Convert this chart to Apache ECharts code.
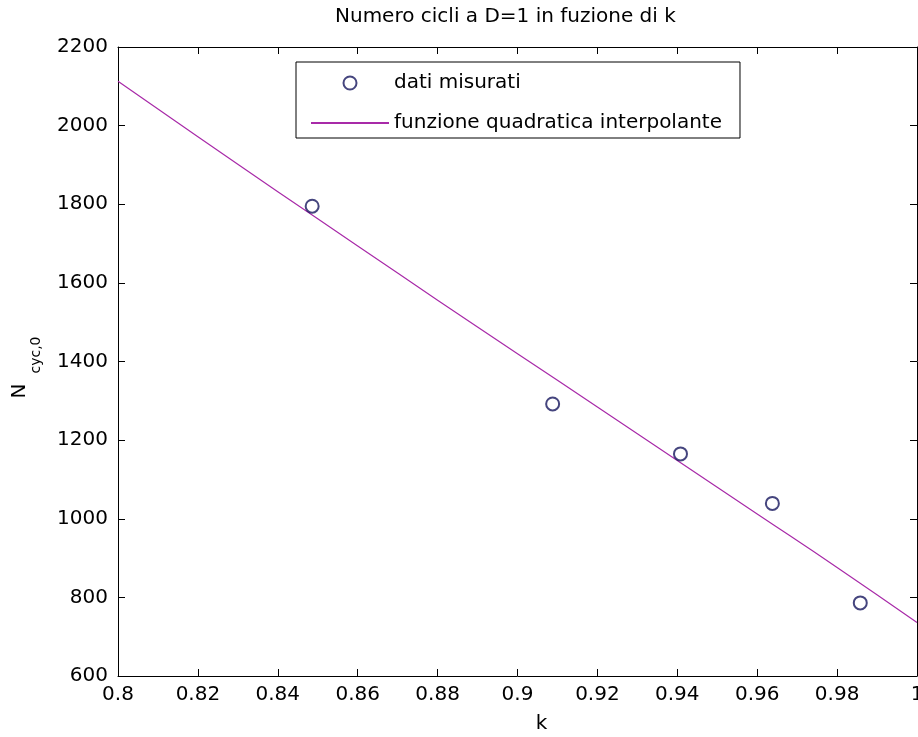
<!DOCTYPE html>
<html>
<head>
<meta charset="utf-8">
<script src="https://cdn.jsdelivr.net/npm/echarts@6/dist/echarts.min.js"></script>
<style>
  html, body { margin: 0; padding: 0; background: #ffffff; overflow: hidden; }
  #chart { width: 918px; height: 737px; }
</style>
</head>
<body>
<div id="chart"></div>
<script>
// Measured cycle counts at D = 1
const measuredK = [0.8486, 0.9088, 0.9408, 0.9638, 0.9858];
const measuredN = [1795, 1292, 1165, 1039, 786];

// Quadratic fit curve, sampled along k
const fitK = [0.80, 0.82, 0.84, 0.86, 0.88, 0.90, 0.92, 0.94, 0.96, 0.98, 1.00];
const fitN = [2113, 1972, 1832, 1694, 1556, 1420, 1284, 1148, 1012, 876, 736];

const xTicks = { min: 0.8, max: 1.0, interval: 0.02 };
const yTicks = { min: 600, max: 2200, interval: 200 };

const titleText = 'Numero cicli a D=1 in fuzione di k';
const legendNames = ['dati misurati', 'funzione quadratica interpolante'];

const FONT = 'DejaVu Sans';
const chart = echarts.init(document.getElementById('chart'), null, { renderer: 'canvas' });

const tickStyle = { show: true, inside: true, length: 7, lineStyle: { color: '#000', width: 1 } };
const lineStyle = { show: true, lineStyle: { color: '#000', width: 1 } };

function xLabel(v) {
  return String(Math.round(v * 100) / 100);
}
function yLabel(v) {
  return String(Math.round(v));
}

chart.setOption({
  backgroundColor: '#ffffff',
  animation: false,
  title: {
    text: titleText,
    left: 335,
    top: 7,
    padding: 0,
    textStyle: { fontFamily: FONT, fontSize: 20, fontWeight: 'normal', color: '#000' }
  },
  grid: { left: 118, right: 1, top: 47, bottom: 61, containLabel: false, outerBoundsMode: 'none' },
  legend: {
    orient: 'vertical',
    left: 296,
    top: 62,
    padding: [9, 18, 3, 14],
    itemGap: 16,
    itemWidth: 78,
    itemHeight: 13,
    borderColor: '#000',
    borderWidth: 1,
    backgroundColor: '#fff',
    textStyle: { fontFamily: FONT, fontSize: 20, color: '#000', lineHeight: 24 },
    data: [
      { name: legendNames[0] },
      { name: legendNames[1], itemStyle: { opacity: 0 } }
    ]
  },
  xAxis: [
    {
      type: 'value', position: 'bottom',
      min: xTicks.min, max: xTicks.max, interval: xTicks.interval,
      name: 'k', nameLocation: 'middle', nameGap: 38,
      nameTextStyle: { fontFamily: FONT, fontSize: 20, color: '#000', padding: [0, 0, 0, 48] },
      axisLine: lineStyle, axisTick: tickStyle,
      axisLabel: { fontFamily: FONT, fontSize: 20, color: '#000', margin: 9, formatter: xLabel },
      splitLine: { show: false }
    },
    {
      type: 'value', position: 'top',
      min: xTicks.min, max: xTicks.max, interval: xTicks.interval,
      axisLine: lineStyle, axisTick: tickStyle,
      axisLabel: { show: false }, splitLine: { show: false }
    }
  ],
  yAxis: [
    {
      type: 'value', position: 'left',
      min: yTicks.min, max: yTicks.max, interval: yTicks.interval,
      axisLine: lineStyle, axisTick: tickStyle,
      axisLabel: { fontFamily: FONT, fontSize: 20, color: '#000', margin: 10, formatter: yLabel },
      splitLine: { show: false }
    },
    {
      type: 'value', position: 'right',
      min: yTicks.min, max: yTicks.max, interval: yTicks.interval,
      axisLine: lineStyle, axisTick: tickStyle,
      axisLabel: { show: false }, splitLine: { show: false }
    }
  ],
  graphic: [
    {
      type: 'text', x: 20, y: 391, rotation: Math.PI / 2,
      style: { text: 'N', fontFamily: FONT, fontSize: 20, fill: '#000', align: 'center', verticalAlign: 'middle' }
    },
    {
      type: 'text', x: 36, y: 355, rotation: Math.PI / 2,
      style: { text: 'cyc,0', fontFamily: FONT, fontSize: 14, fill: '#000', align: 'center', verticalAlign: 'middle' }
    }
  ],
  series: [
    {
      name: legendNames[1],
      type: 'line',
      xAxisIndex: 0, yAxisIndex: 0,
      data: fitK.map((k, i) => [k, fitN[i]]),
      symbol: 'none',
      smooth: true,
      lineStyle: { color: '#a82aa8', width: 1.2 },
      itemStyle: { color: '#c040c0' },
      z: 2
    },
    {
      name: legendNames[0],
      type: 'scatter',
      xAxisIndex: 0, yAxisIndex: 0,
      data: measuredK.map((k, i) => [k, measuredN[i]]),
      symbol: 'emptyCircle',
      symbolSize: 13,
      itemStyle: { color: '#16165e', borderColor: '#16165e', borderWidth: 1.6 },
      z: 3
    }
  ]
});
</script>
</body>
</html>
